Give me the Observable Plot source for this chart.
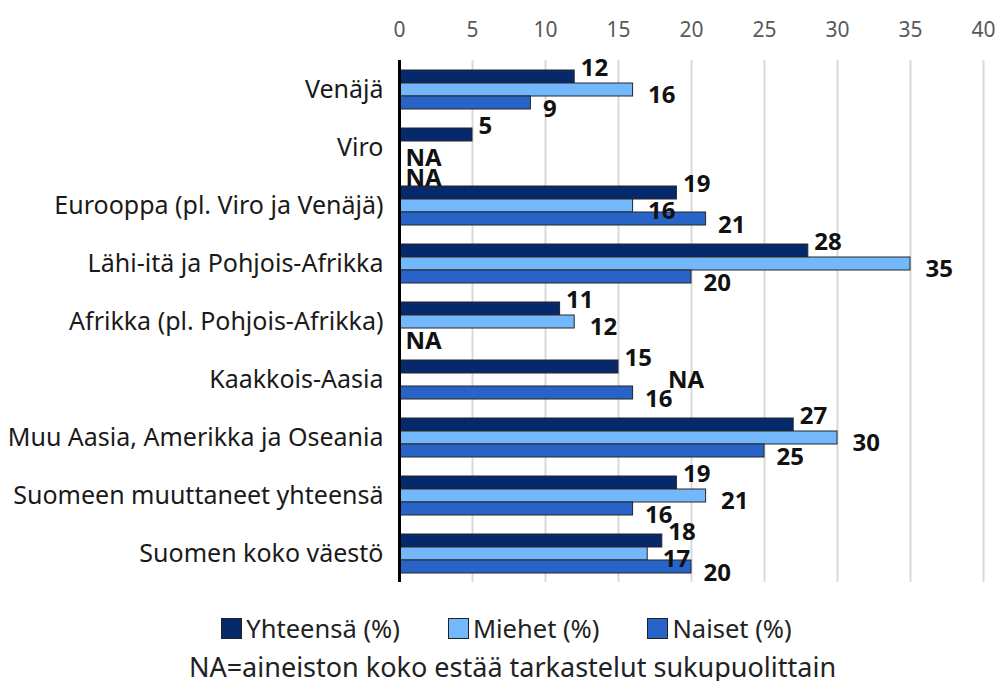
<!DOCTYPE html>
<html>
<head>
<meta charset="utf-8">
<script src="https://cdn.jsdelivr.net/npm/d3@7"></script>
<script src="https://cdn.jsdelivr.net/npm/@observablehq/plot@0.6"></script>
<style>
  body { margin: 0; background: #fff; font-family: "Noto Sans", sans-serif; }
  #wrap { width: 999px; }
  .legend { display: flex; justify-content: center; margin-top: 14px; height: 28px; align-items: center; font-size: 25.5px; color: #222; padding-left: 14px; }
  .item { display: flex; align-items: center; margin: 0 24px; }
  .sw { width: 19px; height: 19px; border: 1px solid #222; margin-right: 4px; }
  .caption { text-align: center; font-size: 27px; color: #222; margin-top: 11px; line-height: 28px; padding-left: 26px; }
</style>
</head>
<body>
<div id="wrap"></div>
<script>
const categories = [
  "Venäjä",
  "Viro",
  "Eurooppa (pl. Viro ja Venäjä)",
  "Lähi-itä ja Pohjois-Afrikka",
  "Afrikka (pl. Pohjois-Afrikka)",
  "Kaakkois-Aasia",
  "Muu Aasia, Amerikka ja Oseania",
  "Suomeen muuttaneet yhteensä",
  "Suomen koko väestö"
];
const series = ["Yhteensä (%)", "Miehet (%)", "Naiset (%)"];
const yhteensa = [12, 5, 19, 28, 11, 15, 27, 19, 18];
const miehet   = [16, null, 16, 35, 12, null, 30, 21, 17];
const naiset   = [9, null, 21, 20, null, 16, 25, 16, 20];
const xTicks = [0, 5, 10, 15, 20, 25, 30, 35, 40];
const colors = ["#06296b", "#74b8fc", "#2864c8"];
const naText = "NA";

const valuesBySeries = [yhteensa, miehet, naiset];
const rows = [];
categories.forEach((c, i) => {
  series.forEach((s, j) => {
    rows.push({category: c, series: s, idx: j, cat: i, value: valuesBySeries[j][i]});
  });
});
const present = rows.filter(d => d.value != null);
const missing = rows.filter(d => d.value == null);
// NA between two existing bars goes beyond them; otherwise at the axis
const naBetween = d => d.idx === 1 && naiset[d.cat] != null && yhteensa[d.cat] != null;
const naX = d => naBetween(d) ? Math.max(yhteensa[d.cat], naiset[d.cat]) : 0;
const naStacked = d => miehet[d.cat] == null && naiset[d.cat] == null;
const labelDx = [6, 15, 12];
const labelDy = [-9, 5, 6];

const chart = Plot.plot({
  width: 999,
  height: 600,
  marginLeft: 399,
  marginRight: 16,
  marginTop: 60,
  marginBottom: 18,
  style: {fontFamily: "'Noto Sans', sans-serif", background: "#fff"},
  x: {domain: [0, 40], ticks: xTicks},
  fy: {domain: categories, padding: 0},
  y: {domain: series, paddingInner: 0, paddingOuter: 0.73, axis: null},
  color: {domain: series, range: colors},
  marks: [
    Plot.gridX(xTicks, {stroke: "#d9d9d9", strokeOpacity: 1, strokeWidth: 2}),
    Plot.axisX({anchor: "top", ticks: xTicks, tickSize: 0, tickPadding: 24, fontSize: 21, fill: "#595959", label: null}),
    Plot.axisFy({anchor: "left", tickSize: 0, tickPadding: 16, fontSize: 25, fill: "#1a1a1a", label: null}),
    Plot.barX(present, {fy: "category", y: "series", x: "value", fill: "series", stroke: "#262626", strokeWidth: 1}),
    ...[0, 1, 2].map(j => Plot.text(present.filter(d => d.idx === j), {fy: "category", y: "series", x: "value", text: d => String(d.value), textAnchor: "start", dx: labelDx[j], dy: labelDy[j], fontSize: 24, fontWeight: "bold", fill: "#111"})),
    // stacked NA pair (both sexes missing)
    Plot.text(missing.filter(d => naStacked(d) && d.idx === 1), {fy: "category", y: "series", x: naX, text: () => naText, textAnchor: "start", dx: 6, dy: 10, fontSize: 24, fontWeight: "bold", fill: "#111"}),
    Plot.text(missing.filter(d => naStacked(d) && d.idx === 2), {fy: "category", y: "series", x: naX, text: () => naText, textAnchor: "start", dx: 6, dy: 17, fontSize: 24, fontWeight: "bold", fill: "#111"}),
    // single NA at the axis
    Plot.text(missing.filter(d => !naStacked(d) && !naBetween(d)), {fy: "category", y: "series", x: naX, text: () => naText, textAnchor: "start", dx: 6, dy: 6, fontSize: 24, fontWeight: "bold", fill: "#111"}),
    // single NA between two bars: placed beyond them
    Plot.text(missing.filter(d => naBetween(d)), {fy: "category", y: "series", x: naX, text: () => naText, textAnchor: "start", dx: 35, dy: 0, fontSize: 24, fontWeight: "bold", fill: "#111"}),
    Plot.ruleX([0], {stroke: "#000", strokeWidth: 3})
  ]
});
const wrap = document.getElementById("wrap");
wrap.appendChild(chart);

const legend = document.createElement("div");
legend.className = "legend";
series.forEach((s, j) => {
  const it = document.createElement("div");
  it.className = "item";
  const sw = document.createElement("div");
  sw.className = "sw";
  sw.style.background = colors[j];
  const t = document.createElement("span");
  t.textContent = s;
  it.appendChild(sw); it.appendChild(t);
  legend.appendChild(it);
});
wrap.appendChild(legend);
const cap = document.createElement("div");
cap.className = "caption";
cap.textContent = "NA=aineiston koko estää tarkastelut sukupuolittain";
wrap.appendChild(cap);
</script>
</body>
</html>
